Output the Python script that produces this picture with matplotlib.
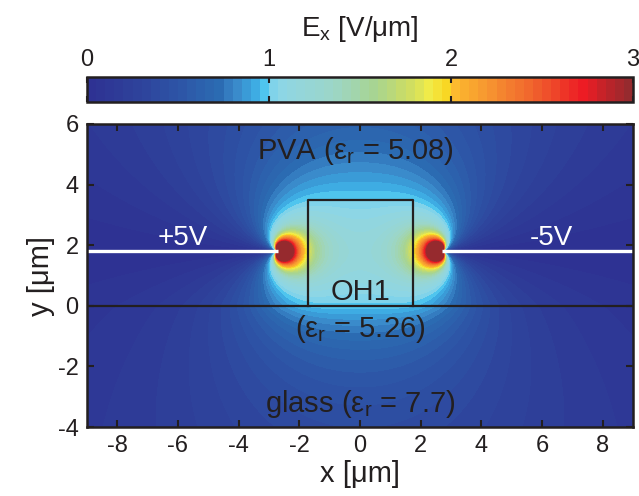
import numpy as np
import matplotlib
matplotlib.use("Agg")
import matplotlib.pyplot as plt
from matplotlib.colors import LinearSegmentedColormap

plt.rcParams['font.family'] = ['Liberation Sans', 'DejaVu Sans']
plt.rcParams['mathtext.fontset'] = 'custom'
plt.rcParams['mathtext.rm'] = 'Liberation Sans'
plt.rcParams['mathtext.it'] = 'Liberation Sans'
plt.rcParams['axes.unicode_minus'] = False

# ---- data / geometry ----
electrode_tips_x = [-2.7, 2.7]      # µm, inner tips of the coplanar electrodes
electrode_y = 1.8                   # µm, electrode height
electrode_voltages = [5.0, -5.0]    # V
electrode_labels = ["+5V", "-5V"]
oh1_box = [-1.7, 1.75, 0.0, 3.5]    # x0, x1, y0, y1 (µm)
glass_field_factor = 0.8            # field reduction deep in glass (eps 7.7)
tip_enhancement = 1.7               # stronger fields at the (thick) electrode tips
layer_texts = ["PVA (ε$_\\mathrm{r}$ = 5.08)", "OH1", "(ε$_\\mathrm{r}$ = 5.26)",
               "glass (ε$_\\mathrm{r}$ = 7.7)"]
x_range = [-9, 9]
y_range = [-4, 6]
x_ticks = [-8, -6, -4, -2, 0, 2, 4, 6, 8]
y_ticks = [-4, -2, 0, 2, 4, 6]
cbar_ticks = [0, 1, 2, 3]
field_max = 3.0

cmap_nodes = [
    (0.00, "#2E3192"), (0.10, "#2E449C"), (0.18, "#2D58A8"), (0.24, "#2B6BB2"),
    (0.27, "#3A86C8"), (0.30, "#3AA5DF"), (0.325, "#4CC4EE"), (0.333, "#7AD2EC"),
    (0.36, "#8FD6E4"), (0.45, "#9CD6C8"), (0.53, "#A8D490"), (0.59, "#CEDD62"),
    (0.63, "#F2EC47"), (0.665, "#F9D21C"), (0.67, "#FCBD2F"), (0.75, "#F58C30"),
    (0.83, "#EF5A2C"), (0.91, "#ED1C24"), (1.00, "#8E2B2F")]

# ---- field map (coplanar-electrode model) ----
xs = np.linspace(x_range[0], x_range[1], 721)
ys = np.linspace(y_range[0], y_range[1], 401)
X, Y = np.meshgrid(xs, ys)
a = (electrode_tips_x[1] - electrode_tips_x[0]) / 2.0
xc = (electrode_tips_x[1] + electrode_tips_x[0]) / 2.0
V0 = (electrode_voltages[0] - electrode_voltages[1]) / 2.0
Z = (X - xc) + 1j * (Y - electrode_y)
Ex = np.abs((2 * V0 / np.pi) * np.real(1.0 / np.sqrt(a**2 - Z**2 + 1e-12)))
E_center = (2 * V0 / np.pi) / a
Ex = np.where(Ex > E_center, E_center * (Ex / E_center) ** tip_enhancement, Ex)
fac = np.where(Y < 0, glass_field_factor + (1 - glass_field_factor) * np.exp(Y / 1.2), 1.0)
Ex = np.clip(Ex * fac, 0, field_max - 1e-6)

cmap = LinearSegmentedColormap.from_list("ex", cmap_nodes, N=256)
levels = np.linspace(0, field_max, 61)

fig = plt.figure(figsize=(6.39, 4.96), dpi=100)
ax = fig.add_axes([87/639, 69/496, 546/639, 303/496])
cf = ax.contourf(X, Y, Ex, levels=levels, cmap=cmap)

# geometry overlays
ax.plot([x_range[0], electrode_tips_x[0]], [electrode_y]*2, color="white", lw=2.4, solid_capstyle="butt")
ax.plot([electrode_tips_x[1], x_range[1]], [electrode_y]*2, color="white", lw=2.4, solid_capstyle="butt")
ax.axhline(0, color="#231F20", lw=1.6)
bx0, bx1, by0, by1 = oh1_box
ax.plot([bx0, bx0, bx1, bx1], [by0, by1, by1, by0], color="#231F20", lw=1.6)

ax.text(-0.15, 5.1, layer_texts[0], ha="center", va="center", fontsize=21, color="#231F20")
ax.text(0.0, 0.45, layer_texts[1], ha="center", va="center", fontsize=21, color="#231F20")
ax.text(0.0, -0.75, layer_texts[2], ha="center", va="center", fontsize=21, color="#231F20")
ax.text(0.0, -3.25, layer_texts[3], ha="center", va="center", fontsize=21, color="#231F20")
ax.text(-5.85, 2.25, electrode_labels[0], ha="center", va="center", fontsize=20, color="white")
ax.text(6.3, 2.25, electrode_labels[1], ha="center", va="center", fontsize=20, color="white")

ax.set_xlim(x_range)
ax.set_ylim(y_range)
ax.set_xticks(x_ticks)
ax.set_yticks(y_ticks)
ax.tick_params(direction="in", top=True, right=True, length=5, width=1.5,
               labelsize=17, colors="#231F20", pad=6)
for s in ax.spines.values():
    s.set_linewidth(1.8)
    s.set_color("#231F20")
ax.set_xlabel("x [μm]", fontsize=21, color="#231F20", labelpad=2)
ax.set_ylabel("y [μm]", fontsize=21, color="#231F20", labelpad=2)

cax = fig.add_axes([87/639, 394/496, 546/639, 25/496])
cb = fig.colorbar(cf, cax=cax, orientation="horizontal", ticks=cbar_ticks)
cax.xaxis.set_ticks_position("top")
cax.xaxis.set_label_position("top")
cax.tick_params(direction="in", length=4, width=1.5, labelsize=17, colors="#231F20",
                top=True, bottom=True, pad=4)
cb.outline.set_linewidth(1.8)
cb.outline.set_edgecolor("#231F20")
cax.set_xticklabels([str(t) for t in cbar_ticks])
cb.set_label("E$_\\mathrm{x}$ [V/μm]", fontsize=20, color="#231F20", labelpad=10)

fig.savefig("out.png", dpi=100)
